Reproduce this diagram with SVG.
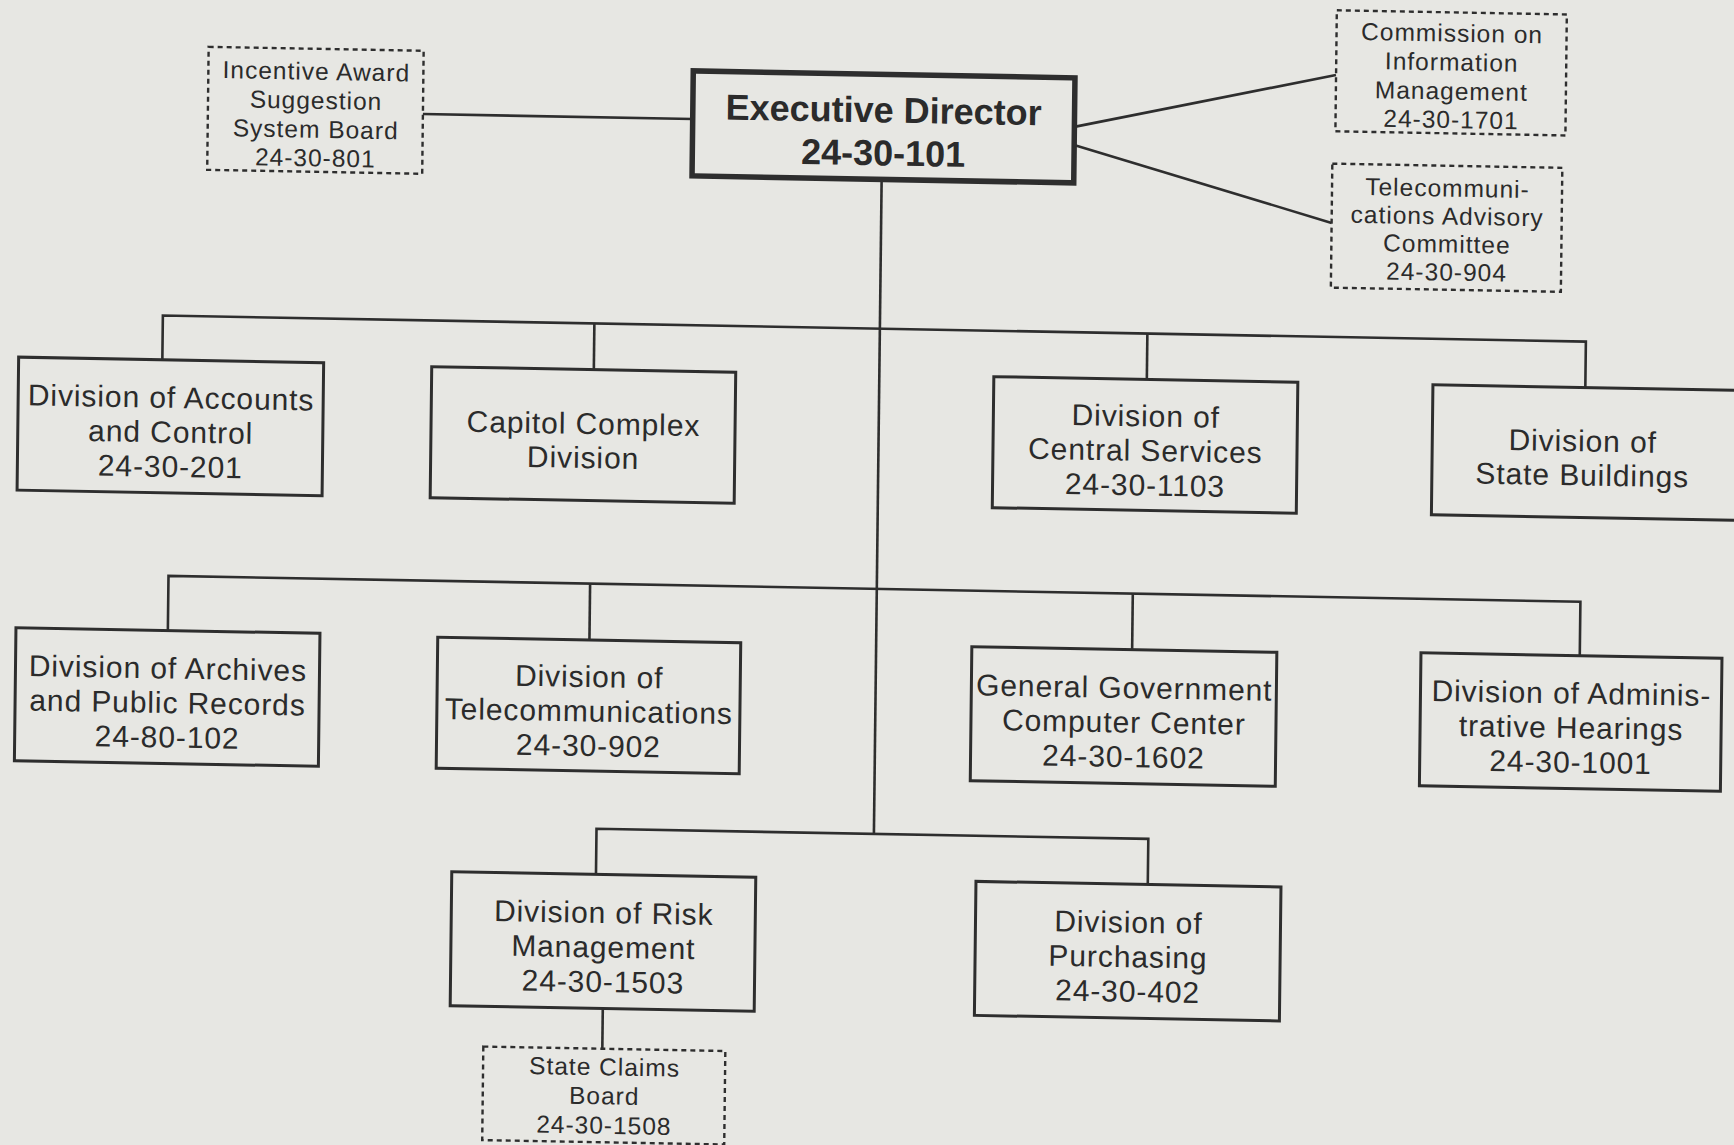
<svg xmlns="http://www.w3.org/2000/svg" width="1734" height="1145" viewBox="0 0 1734 1145">
<style>
.bx{fill:none;stroke:#2e2e2e;stroke-width:3}
.ex{fill:none;stroke:#2e2e2e;stroke-width:5.5}
.ds{fill:none;stroke:#2e2e2e;stroke-width:2.4;stroke-dasharray:5 4}
.cn path{fill:none;stroke:#2e2e2e;stroke-width:2.6}
text{font-family:"Liberation Sans",Arial,Helvetica,sans-serif;fill:#2b2b2b;text-anchor:middle}
.t{font-size:30px;letter-spacing:0.9px}
.d{font-size:24.5px;letter-spacing:1px}
.x{font-size:36px;font-weight:bold}
</style>
<rect width="1734" height="1145" fill="#e7e7e3"/>
<g transform="matrix(1 0.0183 -0.0118 1 6.75 -15.87)">
<g id="connectors" class="cn">
<path d="M417.6 122.3 H687.4"/>
<path d="M1069 123.2 L1330 66.5"/>
<path d="M1069 141.2 L1327.4 214.5"/>
<path d="M877 179.2 V833.7"/>
<path d="M160 372.7 V328.5 H1583 V374.4"/>
<path d="M591.5 328.5 V374.7"/>
<path d="M1144.5 328.5 V374.4"/>
<path d="M168.7 643.3 V588.7 H1580.6 V642.6"/>
<path d="M590.3 588.7 V645.1"/>
<path d="M1133 588.7 V644.8"/>
<path d="M599.6 879.3 V833.7 H1151.4 V879.3"/>
<path d="M608 1013.3 V1053.5"/>
</g>
<g id="executive">
<rect class="ex" x="687.4" y="74.2" width="381.7" height="105"/>
<text class="x" x="878.2" y="122.2">Executive Director</text>
<text class="x" x="878.2" y="165.2">24-30-101</text>
</g>
<g id="incentive">
<rect class="ds" x="202.6" y="59" width="215" height="123"/>
<text class="d" x="310.6" y="90">Incentive Award</text>
<text class="d" x="310.6" y="119">Suggestion</text>
<text class="d" x="310.6" y="148">System Board</text>
<text class="d" x="310.6" y="176.5">24-30-801</text>
</g>
<g id="commission">
<rect class="ds" x="1330.1" y="1.8" width="230" height="121"/>
<text class="d" x="1445.6" y="31">Commission on</text>
<text class="d" x="1445.6" y="60">Information</text>
<text class="d" x="1445.6" y="89">Management</text>
<text class="d" x="1445.6" y="117.5">24-30-1701</text>
</g>
<g id="telecom-advisory">
<rect class="ds" x="1327.4" y="155.2" width="230" height="124"/>
<text class="d" x="1442.9" y="186">Telecommuni-</text>
<text class="d" x="1442.9" y="214">cations Advisory</text>
<text class="d" x="1442.9" y="242">Committee</text>
<text class="d" x="1442.9" y="270">24-30-904</text>
</g>
<g id="accounts">
<rect class="bx" x="16.3" y="372.7" width="305" height="133"/>
<text class="t" x="169.2" y="420.7">Division of Accounts</text>
<text class="t" x="169.2" y="455.2">and Control</text>
<text class="t" x="169.2" y="489.7">24-30-201</text>
</g>
<g id="capitol">
<rect class="bx" x="429.4" y="374.7" width="304" height="131"/>
<text class="t" x="581.8" y="439.2">Capitol Complex</text>
<text class="t" x="581.8" y="473.2">Division</text>
</g>
<g id="central">
<rect class="bx" x="991.5" y="374.4" width="304" height="131"/>
<text class="t" x="1143.9" y="421.4">Division of</text>
<text class="t" x="1143.9" y="455.9">Central Services</text>
<text class="t" x="1143.9" y="490.4">24-30-1103</text>
</g>
<g id="state-buildings">
<rect class="bx" x="1430.6" y="374.4" width="320" height="130"/>
<text class="t" x="1581" y="438.4">Division of</text>
<text class="t" x="1581" y="472.4">State Buildings</text>
</g>
<g id="archives">
<rect class="bx" x="16.8" y="643.3" width="304" height="133"/>
<text class="t" x="169.2" y="691.3">Division of Archives</text>
<text class="t" x="169.2" y="725.8">and Public Records</text>
<text class="t" x="169.2" y="760.3">24-80-102</text>
</g>
<g id="telecommunications">
<rect class="bx" x="438.6" y="645.1" width="303" height="131"/>
<text class="t" x="590.5" y="692.1">Division of</text>
<text class="t" x="590.5" y="726.6">Telecommunications</text>
<text class="t" x="590.5" y="761.1">24-30-902</text>
</g>
<g id="computer-center">
<rect class="bx" x="972.7" y="644.8" width="305" height="134"/>
<text class="t" x="1125.6" y="693.3">General Government</text>
<text class="t" x="1125.6" y="727.8">Computer Center</text>
<text class="t" x="1125.6" y="762.3">24-30-1602</text>
</g>
<g id="hearings">
<rect class="bx" x="1421.8" y="642.6" width="301" height="133"/>
<text class="t" x="1572.7" y="690.6">Division of Adminis-</text>
<text class="t" x="1572.7" y="725.1">trative Hearings</text>
<text class="t" x="1572.7" y="759.6">24-30-1001</text>
</g>
<g id="risk">
<rect class="bx" x="455.4" y="879.3" width="304" height="134"/>
<text class="t" x="607.8" y="927.8">Division of Risk</text>
<text class="t" x="607.8" y="962.3">Management</text>
<text class="t" x="607.8" y="996.8">24-30-1503</text>
</g>
<g id="purchasing">
<rect class="bx" x="979.6" y="879.3" width="305" height="134"/>
<text class="t" x="1132.5" y="927.8">Division of</text>
<text class="t" x="1132.5" y="962.3">Purchasing</text>
<text class="t" x="1132.5" y="996.8">24-30-402</text>
</g>
<g id="state-claims">
<rect class="ds" x="489" y="1053.5" width="242" height="93.5"/>
<text class="d" x="610.5" y="1080">State Claims</text>
<text class="d" x="610.5" y="1109">Board</text>
<text class="d" x="610.5" y="1138.5">24-30-1508</text>
</g>
</g>
</svg>
